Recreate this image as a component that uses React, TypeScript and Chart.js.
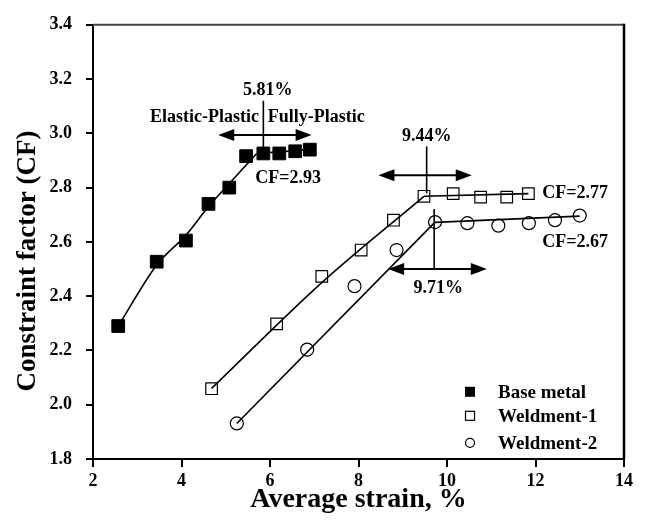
import React, { useEffect, useRef } from 'react';
import { Chart, registerables } from 'chart.js';

Chart.register(...registerables);

// ---- data ----
const baseStrain = [2.57, 3.44, 4.10, 4.61, 5.08, 5.46, 5.85, 6.21, 6.57, 6.90];
const baseCF = [2.29, 2.527, 2.605, 2.74, 2.80, 2.916, 2.926, 2.926, 2.934, 2.94];

const weld1Strain = [4.68, 6.15, 7.17, 8.06, 8.79, 9.48, 10.14, 10.76, 11.35, 11.84];
const weld1CF = [2.059, 2.298, 2.473, 2.57, 2.68, 2.768, 2.778, 2.765, 2.765, 2.778];

const weld2Strain = [5.25, 6.84, 7.91, 8.86, 9.73, 10.46, 11.16, 11.85, 12.44, 13.0];
const weld2CF = [1.931, 2.203, 2.437, 2.57, 2.673, 2.669, 2.66, 2.669, 2.68, 2.697];

// trend (fit) lines
const baseFitStrain = [2.57, 3.44, 4.10, 4.61, 5.08, 5.70];
const baseFitCF = [2.29, 2.515, 2.625, 2.73, 2.815, 2.926];
const baseFlatStrain = [5.70, 6.90];
const baseFlatCF = [2.926, 2.94];

const weld1FitStrain = [4.68, 7.17, 9.48];
const weld1FitCF = [2.06, 2.45, 2.768];
const weld1FlatStrain = [9.48, 11.84];
const weld1FlatCF = [2.768, 2.778];

const weld2FitStrain = [5.25, 9.73];
const weld2FitCF = [1.931, 2.673];
const weld2FlatStrain = [9.73, 13.0];
const weld2FlatCF = [2.672, 2.695];

const seriesLabels = ['Base metal', 'Weldment-1', 'Weldment-2'];

const xTicks = [2, 4, 6, 8, 10, 12, 14];
const yTicks = [1.8, 2.0, 2.2, 2.4, 2.6, 2.8, 3.0, 3.2, 3.4];

// transition annotations
const transitionStrain = [5.85, 9.54, 9.71];
const transitionLabels = ['5.81%', '9.44%', '9.71%'];
const cfLabels = ['CF=2.93', 'CF=2.77', 'CF=2.67'];
const arrowCF = [2.994, 2.846, 2.50];
const arrowFrom = [4.83, 8.45, 8.67];
const arrowTo = [6.94, 10.56, 10.90];
const vLineTop = [3.12, 2.952, 2.721];
const vLineBottom = [2.927, 2.779, 2.50];

const FONT = "'Liberation Serif', 'Times New Roman', serif";

const toXY = (xs: number[], ys: number[]) => xs.map((x, i) => ({ x, y: ys[i] }));

function arrowHead(ctx: CanvasRenderingContext2D, x: number, y: number, dir: number) {
  const len = 16;
  const hw = 6;
  ctx.beginPath();
  ctx.moveTo(x, y);
  ctx.lineTo(x - dir * len, y - hw);
  ctx.lineTo(x - dir * len, y + hw);
  ctx.closePath();
  ctx.fill();
}

const decorPlugin = {
  id: 'decor',
  afterDatasetsDraw(chart: any) {
    const ctx: CanvasRenderingContext2D = chart.ctx;
    const xs = chart.scales.x;
    const ys = chart.scales.y;
    const area = chart.chartArea;
    const px = (v: number) => xs.getPixelForValue(v);
    const py = (v: number) => ys.getPixelForValue(v);
    ctx.save();
    // frame top/right
    ctx.strokeStyle = '#444';
    ctx.lineWidth = 2;
    ctx.beginPath();
    ctx.moveTo(area.left, area.top);
    ctx.lineTo(area.right, area.top);
    ctx.stroke();
    ctx.strokeStyle = '#000';
    ctx.lineWidth = 2.5;
    ctx.beginPath();
    ctx.moveTo(area.right, area.top - 1);
    ctx.lineTo(area.right, area.bottom);
    ctx.stroke();

    // arrows and transition lines
    ctx.fillStyle = '#000';
    ctx.strokeStyle = '#000';
    ctx.lineWidth = 2;
    for (let i = 0; i < transitionStrain.length; i++) {
      const yA = py(arrowCF[i]);
      const x0 = px(arrowFrom[i]);
      const x1 = px(arrowTo[i]);
      ctx.beginPath();
      ctx.moveTo(x0 + 8, yA);
      ctx.lineTo(x1 - 8, yA);
      ctx.stroke();
      arrowHead(ctx, x0, yA, -1);
      arrowHead(ctx, x1, yA, 1);
      const xv = px(transitionStrain[i]);
      ctx.lineWidth = 1.6;
      ctx.beginPath();
      ctx.moveTo(xv, py(vLineTop[i]));
      ctx.lineTo(xv, py(vLineBottom[i]));
      ctx.stroke();
      ctx.lineWidth = 2;
    }

    // texts
    ctx.font = `bold 18px ${FONT}`;
    ctx.textBaseline = 'middle';
    ctx.textAlign = 'center';
    ctx.fillText(transitionLabels[0], px(5.95), py(3.159));
    ctx.fillText(transitionLabels[1], px(9.54), py(2.99));
    ctx.fillText(transitionLabels[2], px(9.80), py(2.428));
    ctx.textAlign = 'right';
    ctx.fillText('Elastic-Plastic', px(5.75), py(3.058));
    ctx.textAlign = 'left';
    ctx.fillText('Fully-Plastic', px(5.95), py(3.058));
    ctx.textAlign = 'center';
    ctx.fillText(cfLabels[0], px(6.41), py(2.833));
    ctx.textAlign = 'left';
    ctx.fillText(cfLabels[1], px(12.15), py(2.778));
    ctx.fillText(cfLabels[2], px(12.15), py(2.60));

    // legend
    const lx = area.left + 377;
    const rows = [area.top + 367, area.top + 391, area.top + 418];
    ctx.font = `bold 19px ${FONT}`;
    ctx.textAlign = 'left';
    ctx.fillStyle = '#000';
    ctx.fillRect(lx - 5, rows[0] - 5, 10, 10);
    ctx.lineWidth = 1.2;
    ctx.strokeRect(lx - 4.5, rows[1] - 4.5, 9, 9);
    ctx.beginPath();
    ctx.arc(lx, rows[2], 4.5, 0, Math.PI * 2);
    ctx.stroke();
    seriesLabels.forEach((t, i) => ctx.fillText(t, lx + 28, rows[i] + 1));

    // y axis title
    ctx.save();
    ctx.translate(28, 261);
    ctx.rotate(-Math.PI / 2);
    ctx.textAlign = 'center';
    ctx.textBaseline = 'middle';
    ctx.font = `bold 27px ${FONT}`;
    ctx.fillText('Constraint factor (CF)', 0, 0);
    ctx.restore();

    ctx.restore();
  },
};

export default function App() {
  const ref = useRef<HTMLCanvasElement | null>(null);
  useEffect(() => {
    if (!ref.current) return;
    const lineDs = (data: any[], tension = 0) => ({
      type: 'line' as const,
      data,
      showLine: true,
      borderColor: '#000',
      borderWidth: 1.6,
      pointRadius: 0,
      fill: false,
      tension,
      cubicInterpolationMode: tension ? ('monotone' as const) : ('default' as const),
    });
    const chart = new Chart(ref.current, {
      type: 'scatter',
      data: {
        datasets: [
          lineDs(toXY(baseFitStrain, baseFitCF), 0.4),
          lineDs(toXY(baseFlatStrain, baseFlatCF)),
          lineDs(toXY(weld1FitStrain, weld1FitCF), 0.4),
          lineDs(toXY(weld1FlatStrain, weld1FlatCF)),
          lineDs(toXY(weld2FitStrain, weld2FitCF)),
          lineDs(toXY(weld2FlatStrain, weld2FlatCF)),
          {
            label: seriesLabels[0],
            data: toXY(baseStrain, baseCF),
            pointStyle: 'rect',
            pointRadius: 9,
            backgroundColor: '#000',
            borderColor: '#000',
            borderWidth: 1,
          },
          {
            label: seriesLabels[1],
            data: toXY(weld1Strain, weld1CF),
            pointStyle: 'rect',
            pointRadius: 8.2,
            backgroundColor: 'rgba(0,0,0,0)',
            borderColor: '#000',
            borderWidth: 1.2,
          },
          {
            label: seriesLabels[2],
            data: toXY(weld2Strain, weld2CF),
            pointStyle: 'circle',
            pointRadius: 6.5,
            backgroundColor: 'rgba(0,0,0,0)',
            borderColor: '#000',
            borderWidth: 1.2,
          },
        ] as any,
      },
      options: {
        animation: false,
        responsive: false,
        devicePixelRatio: 1,
        layout: { padding: { top: 16, right: 23, left: 0, bottom: 0 } },
        plugins: { legend: { display: false }, tooltip: { enabled: false } },
        scales: {
          x: {
            type: 'linear',
            min: 2,
            max: 14,
            afterBuildTicks: (s: any) => { s.ticks = xTicks.map((v) => ({ value: v })); },
            ticks: { color: '#000', font: { family: FONT, size: 18, weight: 'bold' }, padding: 4, maxRotation: 0 },
            grid: { drawOnChartArea: false, drawTicks: true, tickLength: 8, color: '#000', lineWidth: 2 },
            border: { color: '#000', width: 2 },
            title: {
              display: true,
              text: 'Average strain, %',
              color: '#000',
              font: { family: FONT, size: 28, weight: 'bold' },
              padding: { top: 0, bottom: 12 },
            },
            afterFit: (s: any) => { s.height = 70; },
          },
          y: {
            type: 'linear',
            min: 1.8,
            max: 3.4,
            afterBuildTicks: (s: any) => { s.ticks = yTicks.map((v) => ({ value: v })); },
            ticks: {
              color: '#000',
              font: { family: FONT, size: 18, weight: 'bold' },
              padding: 14,
              callback: (v: any) => Number(v).toFixed(1),
            },
            grid: { drawOnChartArea: false, drawTicks: true, tickLength: 7, color: '#000', lineWidth: 2 },
            border: { color: '#000', width: 2 },
            afterFit: (s: any) => { s.width = 93; },
          },
        },
      } as any,
      plugins: [decorPlugin],
    });
    return () => chart.destroy();
  }, []);
  return (
    <div style={{ position: 'fixed', left: 0, top: 0, width: 647, height: 529, background: '#fff' }}>
      <canvas ref={ref} width={647} height={529} style={{ width: 647, height: 529, display: 'block' }} />
    </div>
  );
}
